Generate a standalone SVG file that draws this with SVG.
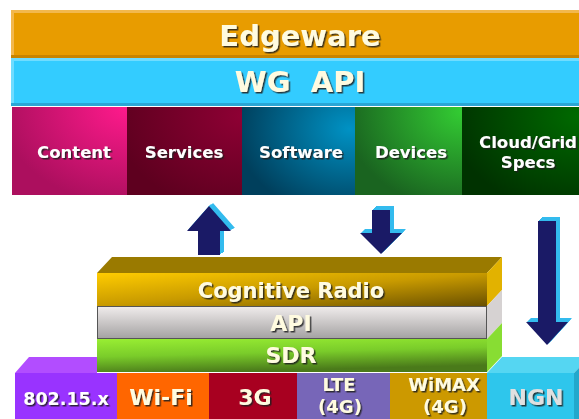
<svg xmlns="http://www.w3.org/2000/svg" width="579" height="419" viewBox="0 0 579 419">
  <defs>
    <filter id="shadow" x="-10%" y="-20%" width="130%" height="160%">
      <feDropShadow dx="1.5" dy="1.5" stdDeviation="0.6" flood-color="#1a1a1a" flood-opacity="0.85"/>
    </filter>
    <radialGradient id="gContent" cx="1" cy="0" r="1.1">
      <stop offset="0" stop-color="#ff1a8c"/>
      <stop offset="1" stop-color="#ac0f5e"/>
    </radialGradient>
    <radialGradient id="gServices" cx="1" cy="0.1" r="1.1">
      <stop offset="0" stop-color="#8e0034"/>
      <stop offset="1" stop-color="#5e001f"/>
    </radialGradient>
    <radialGradient id="gSoftware" cx="0.95" cy="0.25" r="1">
      <stop offset="0" stop-color="#0092c4"/>
      <stop offset="1" stop-color="#003f5c"/>
    </radialGradient>
    <radialGradient id="gDevices" cx="1" cy="0.05" r="1.1">
      <stop offset="0" stop-color="#33cc33"/>
      <stop offset="1" stop-color="#1a6420"/>
    </radialGradient>
    <radialGradient id="gCloud" cx="1" cy="0.1" r="1.1">
      <stop offset="0" stop-color="#006a00"/>
      <stop offset="1" stop-color="#003200"/>
    </radialGradient>
    <linearGradient id="gCog" x1="0" y1="0" x2="1" y2="1">
      <stop offset="0" stop-color="#ffcc00"/>
      <stop offset="0.5" stop-color="#c89a00"/>
      <stop offset="1" stop-color="#6a5000"/>
    </linearGradient>
    <linearGradient id="gApi" x1="0" y1="0" x2="0" y2="1">
      <stop offset="0" stop-color="#f0ecec"/>
      <stop offset="1" stop-color="#a4a2a2"/>
    </linearGradient>
    <linearGradient id="gSdr" x1="0" y1="0" x2="0.3" y2="1">
      <stop offset="0" stop-color="#99ee33"/>
      <stop offset="0.5" stop-color="#7acc2a"/>
      <stop offset="1" stop-color="#4a7a1a"/>
    </linearGradient>
    <!-- arrow shapes, drawn twice: cyan extrusion, then navy face -->
    <polygon id="upArrow" points="209,206 231,231 220,231 220,255 198,255 198,231 187,231"/>
    <polygon id="downArrow" points="372,210 390,210 390,233 402,233 381,254 360,233 372,233"/>
    <polygon id="longArrow" points="538,221 556,221 556,322 568,322 547,345 526,322 538,322"/>
  </defs>
  <style>
    .lbl { font-family: "DejaVu Sans", "Liberation Sans", sans-serif; font-weight: bold; text-anchor: middle; filter: url(#shadow); }
    .cream { fill: #fffbe0; }
    .white { fill: #ffffff; }
    .grey { fill: #e0e0e0; }
    .big { font-size: 29px; }
    .box { font-size: 16.5px; }
    .stack { font-size: 21px; }
    .net { font-size: 20px; }
    .ext { fill: #33bbee; }
    .face { fill: #1a1a66; }
  </style>

  <!-- top band -->
  <g id="edgeware">
    <rect x="11" y="10" width="568" height="48" fill="#e89c00"/>
    <rect x="11" y="10" width="568" height="3" fill="#f2b84e"/>
    <rect x="11" y="10" width="3" height="48" fill="#f2b84e"/>
    <rect x="11" y="55" width="568" height="3" fill="#c88400"/>
    <text class="lbl cream big" x="300" y="46">Edgeware</text>
  </g>
  <g id="wg-api">
    <rect x="11" y="58" width="568" height="48" fill="#33ccff"/>
    <rect x="11" y="58" width="568" height="3" fill="#6fdcff"/>
    <rect x="11" y="58" width="3" height="48" fill="#6fdcff"/>
    <rect x="11" y="103" width="568" height="3" fill="#2aa6d6"/>
    <text class="lbl cream big" x="300" y="92" style="white-space:pre">WG  API</text>
  </g>

  <!-- application tiles -->
  <g id="content">
    <rect x="12" y="107" width="115" height="88" fill="url(#gContent)"/>
    <text class="lbl white box" x="74" y="158">Content</text>
  </g>
  <g id="services">
    <rect x="127" y="107" width="115" height="88" fill="url(#gServices)"/>
    <text class="lbl white box" x="184" y="158">Services</text>
  </g>
  <g id="software">
    <rect x="242" y="107" width="113" height="88" fill="url(#gSoftware)"/>
    <text class="lbl white box" x="301" y="158">Software</text>
  </g>
  <g id="devices">
    <rect x="355" y="107" width="107" height="88" fill="url(#gDevices)"/>
    <text class="lbl white box" x="411" y="158">Devices</text>
  </g>
  <g id="cloud-grid">
    <rect x="462" y="107" width="117" height="88" fill="url(#gCloud)"/>
    <text class="lbl white box" x="528" y="148">Cloud/Grid</text>
    <text class="lbl white box" x="528" y="168">Specs</text>
  </g>

  <!-- radio stack -->
  <g id="cognitive-radio">
    <polygon points="97,273 112,257 502,257 487,273" fill="#9a7a00"/>
    <polygon points="487,273 502,257 502,290 487,306" fill="#e2b200"/>
    <rect x="97" y="273" width="390" height="33" fill="url(#gCog)"/>
    <text class="lbl cream stack" x="291" y="298">Cognitive Radio</text>
  </g>
  <g id="api">
    <polygon points="487,306 502,290 502,323 487,339" fill="#d6d2d2"/>
    <rect x="97.5" y="306.5" width="389" height="32" fill="url(#gApi)" stroke="#555" stroke-width="1"/>
    <text class="lbl cream stack" x="291" y="331" style="font-size:22px">API</text>
  </g>
  <g id="sdr">
    <polygon points="487,339 502,323 502,356 487,372" fill="#88dd33"/>
    <rect x="97" y="339" width="390" height="33" fill="url(#gSdr)"/>
    <text class="lbl cream stack" x="291" y="363" style="font-size:22px">SDR</text>
  </g>

  <!-- access networks -->
  <g id="ieee-802-15">
    <polygon points="15,373 29,357 97,357 97,373" fill="#b24dff"/>
    <rect x="15" y="373" width="102" height="46" fill="#9933ff"/>
    <text class="lbl white net" x="66" y="405" style="font-size:17.5px">802.15.x</text>
  </g>
  <g id="wifi">
    <rect x="117" y="373" width="92" height="46" fill="#ff6600"/>
    <text class="lbl cream net" x="161" y="405" style="font-size:22px">Wi-Fi</text>
  </g>
  <g id="net-3g">
    <rect x="209" y="373" width="88" height="46" fill="#a80020"/>
    <text class="lbl cream net" x="255" y="405" style="font-size:22px">3G</text>
  </g>
  <g id="lte">
    <rect x="297" y="373" width="93" height="46" fill="#7766b8"/>
    <text class="lbl cream net" x="339" y="391" style="font-size:18px">LTE</text>
    <text class="lbl cream net" x="340" y="413" style="font-size:18px">(4G)</text>
  </g>
  <g id="wimax">
    <rect x="390" y="373" width="97" height="46" fill="#cc9900"/>
    <text class="lbl cream net" x="444" y="391" style="font-size:18px">WiMAX</text>
    <text class="lbl cream net" x="445" y="413" style="font-size:18px">(4G)</text>
  </g>
  <g id="ngn">
    <polygon points="487,373 502,357 589,357 574,373" fill="#55d6f2"/>
    <polygon points="574,373 589,357 589,419 574,419" fill="#22a8cc"/>
    <rect x="487" y="373" width="87" height="46" fill="#2ec6ec"/>
    <text class="lbl grey net" x="536" y="405" style="font-size:22px">NGN</text>
  </g>

  <!-- connectors -->
  <g id="connectors">
    <use href="#upArrow" class="ext" transform="translate(1,-1)"/>
    <use href="#upArrow" class="ext" transform="translate(2,-2)"/>
    <use href="#upArrow" class="ext" transform="translate(3,-2)"/>
    <use href="#upArrow" class="ext" transform="translate(4,-3)"/>
    <use href="#upArrow" class="face"/>

    <use href="#downArrow" class="ext" transform="translate(1,-1)"/>
    <use href="#downArrow" class="ext" transform="translate(2,-2)"/>
    <use href="#downArrow" class="ext" transform="translate(3,-3)"/>
    <use href="#downArrow" class="ext" transform="translate(4,-4)"/>
    <use href="#downArrow" class="face"/>

    <use href="#longArrow" class="ext" transform="translate(1,-1)"/>
    <use href="#longArrow" class="ext" transform="translate(2,-2)"/>
    <use href="#longArrow" class="ext" transform="translate(3,-3)"/>
    <use href="#longArrow" class="ext" transform="translate(4,-4)"/>
    <use href="#longArrow" class="face"/>
  </g>
</svg>
